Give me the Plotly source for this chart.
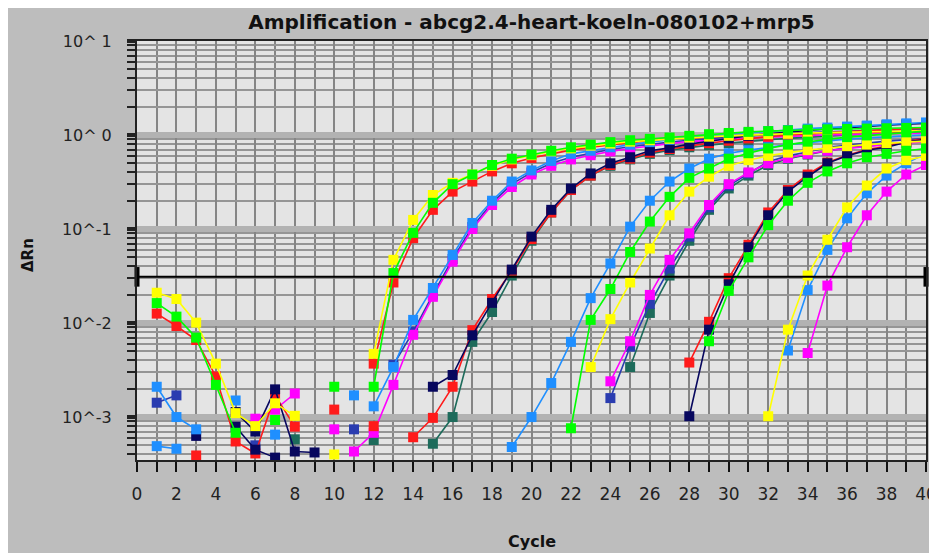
import plotly.graph_objects as go

N = None
cycles = list(range(1, 41))
threshold = 0.031

y_tick_vals = [10, 1, 0.1, 0.01, 0.001]
y_tick_text = ["10^ 1", "10^ 0", "10^-1", "10^-2", "10^-3"]
x_tick_vals = list(range(0, 41, 2))

yellow_a = [0.021, 0.018, 0.0101, 0.0037, 0.0011, 0.0008, 0.0014, 0.00103, N, N, N, 0.0047,
            0.047, 0.125, 0.23, 0.31, 0.38, 0.47, 0.55, 0.61, 0.67, 0.72, 0.77, 0.81,
            0.85, 0.88, 0.91, 0.94, 0.96, 0.98, 1.0, 1.02, 1.03, 1.05, 1.06, 1.07, 1.08, 1.09, 1.10, 1.11]
green_a = [0.0163, 0.0117, 0.0070, 0.0022, 0.00068, N, 0.00093, N, N, 0.0021, N, 0.0021,
           0.034, 0.091, 0.19, 0.30, 0.38, 0.48, 0.56, 0.62, 0.68, 0.74, 0.79, 0.84,
           0.88, 0.91, 0.94, 0.98, 1.02, 1.05, 1.08, 1.10, 1.12, 1.14, 1.15, 1.16, 1.17, 1.18, 1.19, 1.20]
red_a = [0.0126, 0.0093, 0.0066, 0.0027, 0.00055, 0.00041, 0.0017, 0.00079, N, 0.0012, N, 0.0037,
         0.027, 0.080, 0.16, 0.25, 0.32, 0.41, 0.50, 0.57, 0.63, 0.69, 0.74, 0.79,
         0.83, 0.87, 0.90, 0.93, 0.96, 0.98, 1.00, 1.02, 1.03, 1.04, 1.05, 1.06, 1.07, 1.08, 1.09, 1.10]
lblue_b = [0.0021, 0.0010, 0.00074, N, 0.0015, N, 0.00065, N, N, N, N, 0.0013,
           0.0034, 0.0108, 0.0236, 0.053, 0.116, 0.20, 0.32, 0.42, 0.53, 0.63, 0.68, 0.74,
           0.79, 0.84, 0.89, 0.94, 0.98, 1.02, 1.06, 1.10, 1.13, 1.17, 1.20, 1.23, 1.26, 1.30, 1.33, 1.36]
mblue_b = [0.00142, 0.0017, N, N, N, 0.0005, N, N, N, N, N, N,
           0.0036, 0.0081, 0.020, 0.048, 0.105, 0.19, 0.30, 0.40, 0.50, 0.58, 0.64, 0.70,
           0.75, 0.80, 0.84, 0.88, 0.92, 0.95, 0.98, 1.01, 1.04, 1.06, 1.08, 1.10, 1.12, 1.14, 1.15, 1.16]
magenta_b = [N, N, N, N, N, 0.00096, 0.0012, 0.00178, N, N, 0.00043, 0.00068,
             0.0022, 0.0075, 0.019, 0.045, 0.10, 0.18, 0.28, 0.38, 0.47, 0.55, 0.61, 0.67,
             0.72, 0.77, 0.81, 0.85, 0.88, 0.91, 0.93, 0.95, 0.97, 0.99, 1.0, 1.01, 1.02, 1.03, 1.04, 1.05]
navy_c = [N, N, 0.00063, N, 0.00079, 0.00045, 0.00037, N, N, N, N, N,
          N, N, 0.0021, 0.0028, 0.0074, 0.0164, 0.037, 0.083, 0.16, 0.27, 0.39, 0.50,
          0.58, 0.68, 0.73, 0.80, 0.86, 0.92, 0.98, 1.03, 1.08, 1.12, 1.16, 1.20, 1.24, 1.27, 1.30, 1.33]
red_c = [N, N, 0.00039, N, N, N, N, N, N, N, N, 0.0008,
         N, 0.00061, 0.00098, 0.0021, 0.0084, 0.018, 0.036, 0.078, 0.15, 0.26, 0.37, 0.48,
         0.56, 0.65, 0.71, 0.77, 0.82, 0.87, 0.92, 0.96, 1.00, 1.03, 1.06, 1.09, 1.12, 1.14, 1.16, 1.18]
teal_c = [N, N, N, N, N, N, N, 0.00058, N, N, N, 0.00057,
          N, N, 0.00052, 0.0010, 0.0063, 0.0131, 0.032, 0.075, 0.15, 0.26, 0.37, 0.47,
          0.55, 0.63, 0.69, 0.74, 0.78, 0.82, 0.86, 0.89, 0.92, 0.95, 0.98, 1.0, 1.02, 1.04, 1.06, 1.08]
lblue_d = [0.00049, 0.00046] + [N] * 16 + [0.00048, 0.0010, 0.0023, 0.0063, 0.0184, 0.043,
           0.106, 0.20, 0.32, 0.44, 0.56, 0.64, 0.69, 0.74, 0.79, 0.83, 0.87, 0.90, 0.93, 0.96, 0.98, 1.00]
green_d = [N] * 21 + [0.00076, 0.0108, 0.023,
           0.057, 0.12, 0.22, 0.35, 0.44, 0.56, 0.64, 0.72, 0.79, 0.85, 0.90, 0.95, 0.99, 1.03, 1.07, 1.10]
yellow_d = [N] * 9 + [0.0004] + [N] * 12 + [0.0034, 0.011,
            0.027, 0.062, 0.14, 0.25, 0.36, 0.47, 0.54, 0.60, 0.65, 0.69, 0.73, 0.76, 0.79, 0.82, 0.84, 0.86]
magenta_e = [N] * 9 + [0.00074] + [N] * 13 + [0.0024,
             0.0064, 0.0199, 0.047, 0.09, 0.18, 0.30, 0.40, 0.50, 0.57, 0.63, 0.68, 0.72, 0.76, 0.79, 0.82, 0.85]
mblue_e = [N] * 10 + [0.00074] + [N] * 12 + [0.00159,
           0.0056, 0.016, 0.038, 0.083, 0.17, 0.29, 0.39, 0.52, 0.60, 0.66, 0.74, 0.78, 0.82, 0.86, 0.89, 0.92]
teal_e = [N] * 24 + [0.0034, 0.0128, 0.032, 0.075, 0.16, 0.27, 0.37, 0.48, 0.56, 0.62, 0.68, 0.73, 0.77, 0.80, 0.83, 0.86]
red_f = [N] * 27 + [0.0038, 0.0103, 0.030, 0.068, 0.15, 0.26, 0.38, 0.51, 0.61, 0.70, 0.76, 0.85, 0.92]
navy_f = [N, N, N, N, 0.00113, 0.0007, 0.00197, 0.00043, 0.00042] + [N] * 18 + \
         [0.00102, 0.0085, 0.0258, 0.064, 0.14, 0.25, 0.36, 0.50, 0.60, 0.69, 0.74, 0.84, 0.90]
green_f = [N] * 28 + [0.0064, 0.022, 0.050, 0.11, 0.20, 0.31, 0.41, 0.50, 0.58, 0.63, 0.68, 0.72]
yellow_g = [N] * 31 + [0.00102, 0.0085, 0.032, 0.077, 0.17, 0.29, 0.44, 0.54, 0.60]
lblue_g = [N] * 10 + [0.0017] + [N] * 21 + [0.0051, 0.0224, 0.060, 0.13, 0.24, 0.37, 0.50, 0.64]
magenta_g = [N] * 33 + [0.0048, 0.025, 0.064, 0.14, 0.25, 0.38, 0.48]

RED, YEL, GRN = "#ff1a1a", "#ffff00", "#00ff00"
LBL, MBL, NAV = "#1f8fff", "#2a3cb0", "#07075e"
MAG, TEA = "#ff00ff", "#1d6b5b"

series = [
    ("teal_e", teal_e, TEA), ("teal_c", teal_c, TEA),
    ("mblue_e", mblue_e, MBL), ("mblue_b", mblue_b, MBL),
    ("magenta_e", magenta_e, MAG), ("magenta_b", magenta_b, MAG), ("magenta_g", magenta_g, MAG),
    ("red_c", red_c, RED), ("red_f", red_f, RED), ("red_a", red_a, RED),
    ("navy_c", navy_c, NAV), ("navy_f", navy_f, NAV),
    ("lblue_d", lblue_d, LBL), ("lblue_g", lblue_g, LBL), ("lblue_b", lblue_b, LBL),
    ("yellow_d", yellow_d, YEL), ("yellow_g", yellow_g, YEL), ("yellow_a", yellow_a, YEL),
    ("green_f", green_f, GRN), ("green_d", green_d, GRN), ("green_a", green_a, GRN),
]

fig = go.Figure()
for name, vals, col in series:
    fig.add_trace(go.Scatter(
        x=cycles, y=vals, mode="lines+markers", name=name,
        connectgaps=False,
        line=dict(color=col, width=1.6),
        marker=dict(symbol="square", size=10, color=col),
        showlegend=False, cliponaxis=True,
    ))

fig.add_hline(y=threshold, line=dict(color="black", width=2))
# threshold handles at both ends of the axis
fig.add_trace(go.Scatter(
    x=[0, 40], y=[threshold, threshold], mode="markers", showlegend=False, cliponaxis=False,
    marker=dict(symbol="line-ns", size=14, line=dict(color="black", width=5)),
))

# page body has an 8px margin; figure coordinates are page coordinates minus 8
OFF = 8
W, H = 937 - OFF, 553 - OFF
L, R, T, B = 137 - OFF, 926 - OFF, 41 - OFF, 460 - OFF
pw, ph = R - L, B - T

fig.update_layout(
    width=W, height=H,
    margin=dict(l=L, r=W - R, t=T, b=H - B),
    paper_bgcolor="#bdbdbd",
    plot_bgcolor="#e4e4e4",
    title=dict(text="<b>Amplification - abcg2.4-heart-koeln-080102+mrp5</b>",
               x=(L + R) / 2 / W, xanchor="center", y=1 - (22 - OFF) / H, yanchor="middle",
               font=dict(family="DejaVu Sans", size=20, color="#111")),
    annotations=[
        dict(text="<b>ΔRn</b>", xref="paper", yref="paper", x=(28 - OFF - L) / pw,
             y=(B - (255 - OFF)) / ph, xanchor="center", yanchor="middle",
             textangle=-90, showarrow=False,
             font=dict(family="DejaVu Sans", size=15, color="#111")),
        dict(text="<b>Cycle</b>", xref="paper", yref="paper", x=(532 - OFF - L) / pw,
             y=(B - (541 - OFF)) / ph, xanchor="center", yanchor="middle", showarrow=False,
             font=dict(family="DejaVu Sans", size=16, color="#111")),
    ],
)

fig.update_xaxes(
    range=[0, 40], tickvals=x_tick_vals, ticks="outside", ticklen=10, tickwidth=2, tickcolor="#111",
    showgrid=True, gridcolor="#858585", gridwidth=2, automargin=False, ticklabelstandoff=8,
    minor=dict(dtick=1, ticks="outside", ticklen=10, tickwidth=2, tickcolor="#111",
               showgrid=True, gridcolor="#858585", gridwidth=2),
    showline=True, linecolor="#222", linewidth=2, mirror=True,
    tickfont=dict(family="DejaVu Sans", size=17, color="#222"), zeroline=False,
)
fig.update_yaxes(
    type="log", range=[-3.457, 1], tickvals=y_tick_vals, ticktext=y_tick_text,
    ticks="outside", ticklen=8, tickwidth=4, tickcolor="#222", automargin=False, ticklabelstandoff=12,
    showgrid=True, gridcolor="#b2b2b2", gridwidth=6,
    minor=dict(dtick="D1", ticks="outside", ticklen=8, tickwidth=2, tickcolor="#222",
               showgrid=True, gridcolor="#959595", gridwidth=1.5),
    showline=True, linecolor="#222", linewidth=2, mirror=True,
    tickfont=dict(family="DejaVu Sans", size=16, color="#222"), zeroline=False,
)

fig.write_html("out.html")
